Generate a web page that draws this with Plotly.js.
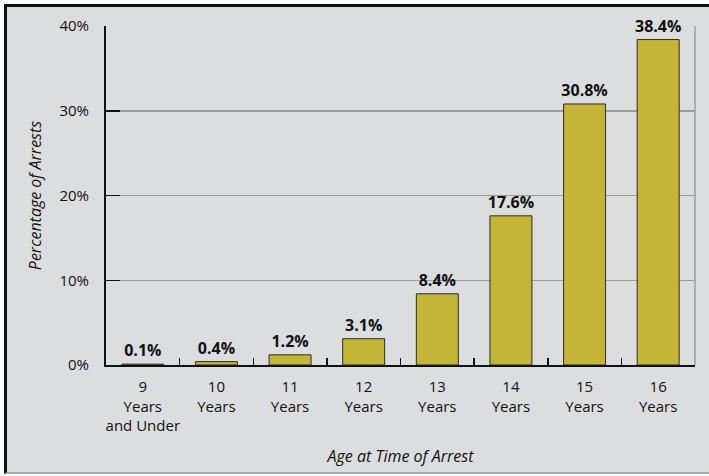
<!DOCTYPE html>
<html>
<head>
<meta charset="utf-8">
<script src="https://cdn.plot.ly/plotly-3.0.1.min.js"></script>
<style>
  html, body { margin: 0; padding: 0; background: #ffffff; }
  #frame {
    position: absolute; left: 4px; top: 4px; width: 705px; height: 470px;
    box-sizing: border-box;
    border-left: 3px solid #111; border-top: 3px solid #111;
    border-bottom: 2px solid #a9a9a9;
    background: #dcdddf;
  }
  #chart { position: absolute; left: 0; top: 0; width: 709px; height: 476px; }
</style>
</head>
<body>
<div id="frame"></div>
<div id="chart"></div>
<script>
const categories = ["9<br>Years<br>and Under", "10<br>Years", "11<br>Years", "12<br>Years", "13<br>Years", "14<br>Years", "15<br>Years", "16<br>Years"];
const percentages = [0.1, 0.4, 1.2, 3.1, 8.4, 17.6, 30.8, 38.4];
const yTickValues = [0, 10, 20, 30, 40];
const yTickLabels = ["0%", "10%", "20%", "30%", "40%"];

const fontFamily = "'Open Sans', 'Noto Sans', sans-serif";

const trace = {
  type: "bar",
  x: categories,
  y: percentages,
  width: 0.57,
  marker: { color: "#c3b535", line: { color: "#2a2a2a", width: 1 } },
  text: percentages.map(v => v.toFixed(1) + "%"),
  textposition: "outside",
  constraintext: "none",
  textfont: { family: fontFamily, size: 16, color: "#111", weight: "bold" },
  cliponaxis: false,
  hoverinfo: "none"
};

const layout = {
  width: 709, height: 476,
  margin: { l: 106, r: 14, t: 26, b: 111 },
  paper_bgcolor: "rgba(0,0,0,0)",
  plot_bgcolor: "rgba(0,0,0,0)",
  font: { family: fontFamily, size: 14, color: "#111" },
  showlegend: false,
  xaxis: {
    type: "category",
    showline: true, linecolor: "#111", linewidth: 2,
    ticks: "inside", tickson: "boundaries", ticklen: 7, tickcolor: "#111", tickwidth: 1.5,
    showgrid: false,
    tickangle: 0,
    ticklabelstandoff: 7,
    tickfont: { family: fontFamily, size: 15, color: "#111" },
    title: { text: "<i>Age at Time of Arrest</i>", font: { family: fontFamily, size: 16, color: "#111" }, standoff: 17 },
    fixedrange: true
  },
  yaxis: {
    range: [0, 40],
    tickvals: yTickValues, ticktext: yTickLabels,
    showline: true, linecolor: "#111", linewidth: 2,
    ticks: "inside", ticklen: 14, tickcolor: "#111", tickwidth: 1.5,
    ticklabelstandoff: 12,
    showgrid: true, gridcolor: "#9c9c9c", gridwidth: 1.5,
    zeroline: false,
    tickfont: { family: fontFamily, size: 15, color: "#111" },
    title: { text: "<i>Percentage of Arrests</i>", font: { family: fontFamily, size: 16, color: "#111" }, standoff: 14 },
    fixedrange: true
  },
  shapes: [
    { type: "line", xref: "paper", yref: "paper", x0: 1, x1: 1, y0: 0, y1: 1,
      line: { color: "#9c9c9c", width: 1.5 } }
  ]
};

Plotly.newPlot("chart", [trace], layout, { displayModeBar: false, staticPlot: true });
</script>
</body>
</html>
